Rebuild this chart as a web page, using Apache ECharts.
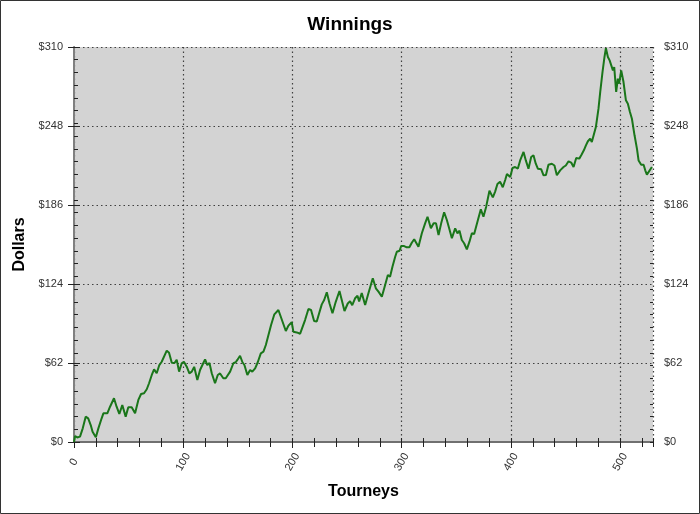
<!DOCTYPE html>
<html>
<head>
<meta charset="utf-8">
<script src="https://cdn.jsdelivr.net/npm/echarts@6/dist/echarts.min.js"></script>
<style>
html,body{margin:0;padding:0;background:#fff;}
#chart{width:700px;height:514px;}
</style>
</head>
<body>
<div id="chart"></div>
<script>
var titleText = 'Winnings';
var xAxisName = 'Tourneys';
var yAxisName = 'Dollars';
var yTicks = [0, 62, 124, 186, 248, 310];
var xTicks = [0, 100, 200, 300, 400, 500];

var tourneys = [0,1,3,5.5,8,10.7,13,15.3,17,18.3,20,22.3,25.3,26.9,28.5,30.5,33,34.5,36.6,39,41.5,44.2,47.3,49.7,52.8,54.3,55.9,58.9,61.4,64.1,66.6,68.7,71.2,73.3,75.7,78.1,80.3,82,84.9,87,89.5,92,94,96.2,98.6,100.6,103.2,105.6,107.8,110,112.9,115.4,118.4,120,122,124,126.1,129.1,
131.6,133.7,135.2,136.7,138.9,140.7,142.9,145.9,148,149.5,152,154.2,156,158.7,161.2,163.2,165.8,168.2,171,173.4,175.6,178,180.4,183.4,185,187.1,189.3,191.1,193.9,196.3,197.8,199.3,200.8,203.9,207,208.5,211.5,214.6,217,219.8,222.2,224.4,226.8,229,231.4,233.9,236.6,239.6,243,245.1,247.6,250.6,252.7,254.7,257.3,259.5,261,
263.4,266.5,269.5,273.5,276.3,278.7,279.6,281.8,284.8,287.3,289.3,291.5,294,295.5,298,299.5,302.2,304.6,307,309.2,311.4,313.2,315.3,318.4,321.4,323.6,326.7,329.2,331.4,333.7,336.1,338.8,341.3,343.4,345.9,348.9,351,352.9,355,357.1,359.6,362,364.2,366.3,369.3,372.4,374.8,377.3,380.3,383.4,385.5,387.6,390,392.5,394.7,396.3,
399.3,401.4,403.8,406.3,408.4,411.5,413.6,416,418.5,420.6,422.7,424.6,427.7,429.8,432,434.3,437.4,439.8,442,445,448.1,450.2,452.7,455.1,457.3,459.7,462.5,464.3,466.7,468.6,470.4,472.5,474,475.6,477.7,480.1,481.7,483.8,485.6,486.9,488.7,490.3,491.8,493.3,494.5,496.3,497.8,499,500.9,503,505.2,507,508.9,510.7,513.1,515.3,516.8,519.2,521.4,522.9,524.4,525.9,529];

var winnings = [0,4.7,3.6,4.2,10.7,19.9,18.6,13.3,8,8.6,3.7,10.7,18.6,22.5,21.2,22.5,27.7,26.4,34.3,27.7,22,29,19.9,27.2,27.2,25.9,22.5,33,37.7,38.3,41.4,46.1,52.6,57,53.9,60.4,63,62,71.7,70,62.2,62,64.5,55.2,61.8,63,59.1,53.9,55.2,59,48.7,56.5,62,64.9,60.4,62,54,46.1,
52.6,53.8,52.6,50,50,49.2,55.2,61.8,62.6,64.4,67.7,62.6,60.4,52.6,56.5,55.2,57.8,62.6,69.6,70.9,76.1,84,91.8,100.2,100.2,103.6,98.3,97,87.1,91.3,89.8,94,86.6,86,85,86,95.7,104.4,103.6,95,94.5,101,108,111.4,117.5,108.7,101,110,118.5,111.4,102.8,108.7,110.5,107.4,112.8,114.8,110.2,
117,107.5,116.7,128.5,120.6,118,119.2,114,123.2,131.1,129.7,137.6,145.4,149.3,150.1,153.8,153.8,152.8,152.8,156.4,159.1,158,153.3,163.8,171.6,176.8,167.7,171.6,171.6,162.5,171.6,180.3,174.2,167.7,159.9,167.7,163.8,165.8,158.5,156,151.2,157.2,163.8,163.3,172.9,182.6,176.8,184.7,197.2,192,196.5,202.5,204.3,199.9,205.6,210.3,
208,215,215.8,214.6,221,227.6,221,214.5,223.7,225,218.4,214.5,214,209.3,209.6,217.6,218.4,217,209.3,213.2,215.8,217,220.3,219.3,215.8,222.9,222.4,225,228.9,232.8,236,238,235.4,234.1,247.2,261.6,274.7,290.4,302.2,309,302.2,299.5,295.6,291.7,294.3,274.7,285.1,281.2,291.7,282.5,268.2,265.5,259,253.7,240.7,230.2,221,217.6,217.6,213.2,209.8,210.6,215.8];

var seriesData = tourneys.map(function (t, i) { return [t, winnings[i]]; });

var FONT = 'Liberation Sans, Arial, sans-serif';
var xMin = xTicks[0], xMax = 530;
var yMin = yTicks[0], yMax = yTicks[yTicks.length - 1];
var yStep = yTicks[1] - yTicks[0];
var xStep = xTicks[1] - xTicks[0];
var gridDash = { show: true, lineStyle: { type: [1.5, 3], color: '#404040', width: 1.2 } };

var chart = echarts.init(document.getElementById('chart'), null, { renderer: 'canvas' });
chart.setOption({
  animation: false,
  backgroundColor: '#ffffff',
  title: {
    text: titleText, left: 'center', top: 15, padding: 0,
    textStyle: { fontFamily: FONT, fontSize: 19, fontWeight: 'bold', color: '#000' }
  },
  graphic: [{
    type: 'rect', z: 100, silent: true,
    shape: { x: 0.5, y: 0.5, width: 699, height: 513 },
    style: { fill: 'none', stroke: '#333', lineWidth: 1 }
  }],
  grid: {
    left: 74, right: 47, top: 47, bottom: 72,
    show: true, backgroundColor: '#d3d3d3', borderWidth: 0
  },
  xAxis: [
    {
      type: 'value', position: 'bottom', min: xMin, max: xMax, interval: xStep,
      axisLine: { show: true, lineStyle: { color: '#808080', width: 2 } },
      axisTick: { show: true, length: 6, lineStyle: { color: '#222' } },
      axisLabel: {
        rotate: 60, align: 'center', verticalAlign: 'middle', margin: 20,
        color: '#333', fontSize: 11, fontFamily: FONT, showMaxLabel: false
      },
      splitLine: gridDash,
      name: xAxisName, nameLocation: 'middle', nameGap: 42,
      nameTextStyle: { fontFamily: FONT, fontSize: 16, fontWeight: 'bold', color: '#000' }
    },
    {
      type: 'value', position: 'bottom', min: xMin, max: xMax, interval: 20,
      axisLine: { show: false },
      axisTick: { show: true, inside: true, length: 4, lineStyle: { color: '#222' } },
      axisLabel: { show: false }, splitLine: { show: false }
    },
    {
      type: 'value', position: 'top', min: xMin, max: xMax, interval: 20,
      axisLine: { show: true, lineStyle: { color: '#707070', width: 2 } },
      axisTick: { show: true, inside: true, length: 5, lineStyle: { color: '#222' } },
      axisLabel: { show: false }, splitLine: { show: false }
    }
  ],
  yAxis: [
    {
      type: 'value', position: 'left', min: yMin, max: yMax, interval: yStep,
      axisLine: { show: true, lineStyle: { color: '#333', width: 1 } },
      axisTick: { show: true, length: 6, lineStyle: { color: '#222' } },
      axisLabel: { formatter: function (v) { return '$' + v; }, margin: 11, color: '#333', fontSize: 11, fontFamily: FONT },
      splitLine: gridDash,
      name: yAxisName, nameLocation: 'middle', nameGap: 36,
      nameTextStyle: { fontFamily: FONT, fontSize: 16, fontWeight: 'bold', color: '#000' }
    },
    {
      type: 'value', position: 'right', min: yMin, max: yMax, interval: yStep,
      axisLine: { show: true, lineStyle: { color: '#808080', width: 2 } },
      axisTick: { show: true, length: 6, lineStyle: { color: '#222' } },
      axisLabel: { formatter: function (v) { return '$' + v; }, margin: 11, color: '#333', fontSize: 11, fontFamily: FONT },
      splitLine: { show: false }
    },
    {
      type: 'value', position: 'left', min: yMin, max: yMax, interval: 10,
      axisLine: { show: false },
      axisTick: { show: true, inside: true, length: 4, lineStyle: { color: '#222' } },
      axisLabel: { show: false }, splitLine: { show: false }
    },
    {
      type: 'value', position: 'right', min: yMin, max: yMax, interval: 10,
      axisLine: { show: false },
      axisTick: { show: true, inside: true, length: 3, lineStyle: { color: '#222' } },
      axisLabel: { show: false }, splitLine: { show: false }
    }
  ],
  series: [{
    type: 'line', xAxisIndex: 0, yAxisIndex: 0,
    data: seriesData, showSymbol: false, symbol: 'none',
    lineStyle: { color: '#1a761a', width: 2 },
    z: 5
  }]
});
</script>
</body>
</html>
